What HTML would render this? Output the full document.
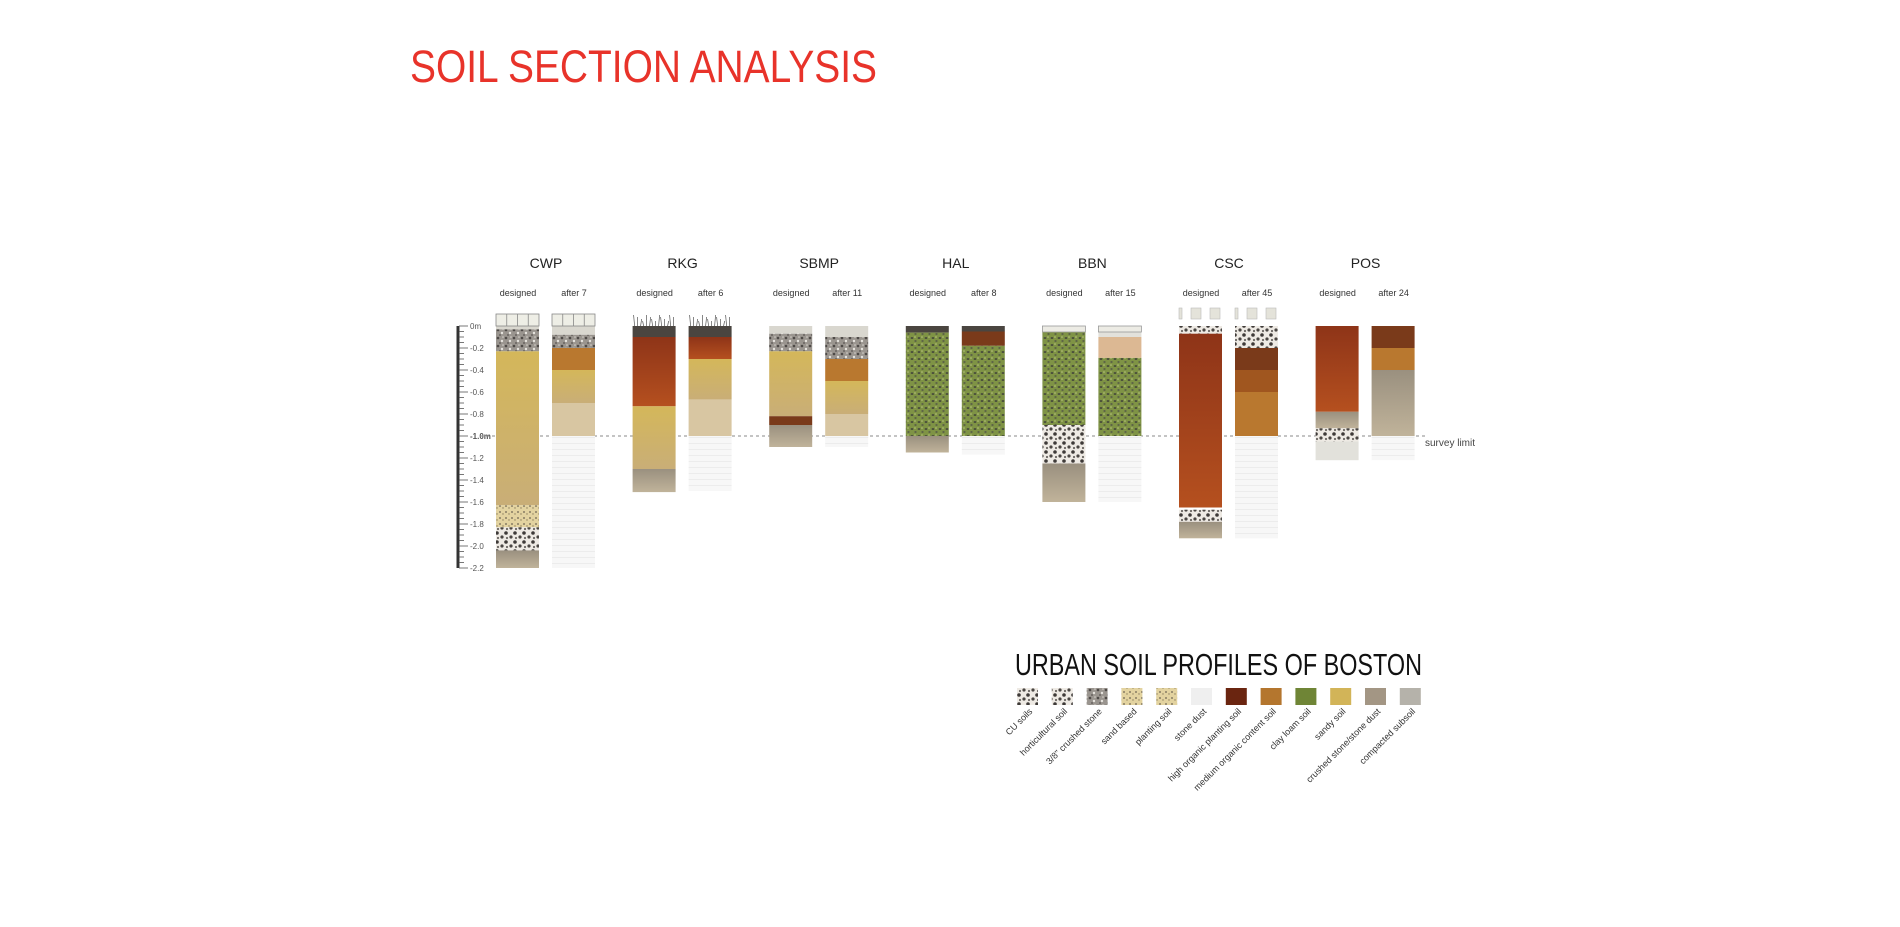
<!DOCTYPE html>
<html><head><meta charset="utf-8"><style>
html,body{margin:0;padding:0;background:#fff;width:1900px;height:927px;overflow:hidden}
svg text{font-family:"Liberation Sans",sans-serif}
</style></head><body>
<svg id="chart" width="1900" height="927" viewBox="0 0 1900 927">
<defs>
<pattern id="p-crushed" width="8" height="8" patternUnits="userSpaceOnUse"><rect width="8" height="8" fill="#9a958f"/><circle cx="2" cy="2" r="1.3" fill="#4e4a47"/><circle cx="6" cy="5" r="1.2" fill="#e6e3de"/><circle cx="4" cy="7" r="0.9" fill="#5a5652"/><circle cx="7" cy="1" r="0.8" fill="#d6d2cc"/></pattern>
<pattern id="p-coarse" width="9" height="9" patternUnits="userSpaceOnUse"><rect width="9" height="9" fill="#eeeae4"/><circle cx="2" cy="2" r="1.8" fill="#3e3a38"/><circle cx="7" cy="6" r="1.6" fill="#4a4643"/><circle cx="3" cy="7" r="1.1" fill="#6b6662"/></pattern>
<pattern id="p-clay" width="7" height="7" patternUnits="userSpaceOnUse"><rect width="7" height="7" fill="#7f9345"/><ellipse cx="2" cy="2" rx="1.4" ry="1" fill="#4b4f3c"/><ellipse cx="5.5" cy="5" rx="1.2" ry="0.9" fill="#555947"/><circle cx="5" cy="1" r="0.8" fill="#b9c47f"/></pattern>
<pattern id="p-planting" width="6" height="6" patternUnits="userSpaceOnUse"><rect width="6" height="6" fill="#e3d3a0"/><circle cx="2" cy="2" r="0.9" fill="#6b6250"/><circle cx="5" cy="4" r="0.7" fill="#8a7c5c"/></pattern>
<pattern id="p-empty" width="10" height="6" patternUnits="userSpaceOnUse"><rect width="10" height="6" fill="#f7f7f7"/><line x1="0" y1="5.5" x2="10" y2="5.5" stroke="#ececec" stroke-width="1"/></pattern>
<linearGradient id="g-sandy" x1="0" y1="0" x2="0" y2="1"><stop offset="0" stop-color="#d4b75a"/><stop offset="1" stop-color="#c9ae77"/></linearGradient>
<linearGradient id="g-highorg" x1="0" y1="0" x2="0" y2="1"><stop offset="0" stop-color="#8e3418"/><stop offset="1" stop-color="#b5501f"/></linearGradient>
<linearGradient id="g-compacted" x1="0" y1="0" x2="0" y2="1"><stop offset="0" stop-color="#9a907f"/><stop offset="1" stop-color="#c0b39a"/></linearGradient>
</defs>
<text x="410" y="82" font-size="45" fill="#e8332a" textLength="467" lengthAdjust="spacingAndGlyphs">SOIL SECTION ANALYSIS</text>
<g id="plot"></g>
<g id="legend"></g>
</svg>
<script>
const sites = ["CWP","RKG","SBMP","HAL","BBN","CSC","POS"];
const afterLabels = ["after 7","after 6","after 11","after 8","after 15","after 45","after 24"];
const designedLayers = [
 [[0,0.03,"stonedust"],[0.03,0.23,"crushed"],[0.23,1.63,"sandy"],[1.63,1.83,"planting"],[1.83,2.04,"coarse"],[2.04,2.2,"compacted"]],
 [[0,0.1,"dark"],[0.1,0.73,"highorg"],[0.73,1.3,"sandy"],[1.3,1.51,"compacted"]],
 [[0,0.07,"stonedust"],[0.07,0.23,"crushed"],[0.23,0.82,"sandy"],[0.82,0.9,"darkbrown"],[0.9,1.1,"compacted"]],
 [[0,0.06,"dark"],[0.06,1.0,"clay"],[1.0,1.15,"compacted"]],
 [[0,0.05,"stonedust"],[0.05,0.9,"clay"],[0.9,1.25,"coarse"],[1.25,1.6,"compacted"]],
 [[0,0.07,"coarse"],[0.07,1.65,"highorg"],[1.67,1.78,"coarse"],[1.78,1.93,"compacted"]],
 [[0,0.78,"highorg"],[0.78,0.93,"compacted"],[0.93,1.05,"coarse"],[1.05,1.22,"lightgray"]]
];
const afterLayers = [
 [[0,0.08,"stonedust"],[0.08,0.2,"crushed"],[0.2,0.4,"medorg"],[0.4,0.7,"sandy"],[0.7,1.0,"lightsandy"],[1.0,2.2,"empty"]],
 [[0,0.1,"dark"],[0.1,0.3,"highorg"],[0.3,0.67,"sandy"],[0.67,1.0,"lightsandy"],[1.0,1.5,"empty"]],
 [[0,0.1,"stonedust"],[0.1,0.3,"crushed"],[0.3,0.5,"medorg"],[0.5,0.8,"sandy"],[0.8,1.0,"lightsandy"],[1.0,1.1,"empty"]],
 [[0,0.05,"dark"],[0.05,0.18,"darkbrown"],[0.18,1.0,"clay"],[1.0,1.17,"empty"]],
 [[0,0.05,"stonedust"],[0.05,0.1,"lightgray"],[0.1,0.29,"tan"],[0.29,1.0,"clay"],[1.0,1.6,"empty"]],
 [[0,0.2,"coarse"],[0.2,0.4,"darkbrown"],[0.4,0.6,"brown"],[0.6,1.0,"medorg"],[1.0,1.93,"empty"]],
 [[0,0.2,"darkbrown"],[0.2,0.4,"medorg"],[0.4,1.0,"compacted"],[1.0,1.22,"empty"]]
];
const topper = ["paver","grass","none","none","box","squares","none"];
const tickValues = [0,0.2,0.4,0.6,0.8,1.0,1.2,1.4,1.6,1.8,2.0,2.2];
const tickLabels = ["0m","-0.2","-0.4","-0.6","-0.8","-1.0m","-1.2","-1.4","-1.6","-1.8","-2.0","-2.2"];
const legendLabels = ["CU soils","horticultural soil","3/8\" crushed stone","sand based","planting soil","stone dust","high organic  planting soil","medium organic content soil","clay loam soil","sandy soil","crushed stone/stone dust","compacted subsoil"];
const legendFills = ["url(#p-coarse)","url(#p-coarse)","url(#p-crushed)","url(#p-planting)","url(#p-planting)","#efefef","#6a2510","#b4762e","#6f8536","#d2b458","#a39684","#b5b2aa"];

const NS="http://www.w3.org/2000/svg";
const plot=document.getElementById('plot');
function y(d){return 326+d*110;}
function siteX(i){return 546+i*136.6;}
function el(tag,attrs,parent){const e=document.createElementNS(NS,tag);for(const k in attrs)e.setAttribute(k,attrs[k]);(parent||plot).appendChild(e);return e;}
const fills={stonedust:"#d9d7cf",crushed:"url(#p-crushed)",coarse:"url(#p-coarse)",sandy:"url(#g-sandy)",lightsandy:"#d8c6a2",planting:"url(#p-planting)",medorg:"#b9782f",highorg:"url(#g-highorg)",darkbrown:"#7a3a1a",clay:"url(#p-clay)",compacted:"url(#g-compacted)",empty:"url(#p-empty)",dark:"#4a4540",tan:"#dcb893",lightgray:"#e2e1db",brown:"#a0561f"};

// axis
let ax=el('line',{x1:458,y1:y(0),x2:458,y2:y(2.2),stroke:'#333','stroke-width':3});


for(let k=0;k<=44;k++){
  const d=k*0.05;
  const t=el('line',{x1:459,y1:y(d),x2:k%4==0?468:464,y2:y(d),stroke:'#555','stroke-width':0.8});
  
  
}
tickValues.forEach((v,i)=>{
  const t=el('text',{x:470,y:y(v)+3,'font-size':8,fill:'#555','font-weight':i==5?'bold':'normal'});
  t.textContent=tickLabels[i];
  
  
});
// survey limit line
let sl=el('line',{x1:480,y1:y(1.0),x2:1425,y2:y(1.0),stroke:'#888','stroke-width':1,'stroke-dasharray':'3,3'});


let st=el('text',{x:1425,y:y(1.0)+10,'font-size':10,fill:'#444'});
st.textContent='survey limit';



function drawColumn(x,layers,top){
  const w=43;
  layers.forEach(L=>{
    const r=el('rect',{x:x,y:y(L[0]),width:w,height:y(L[1])-y(L[0]),fill:fills[L[2]]});
    
    
  });
  if(top==='paver'){
    const b=el('rect',{x:x,y:314,width:w,height:12,fill:'#eeeee6',stroke:'#888','stroke-width':0.8});
    
    
    for(let k=1;k<4;k++){const l=el('line',{x1:x+k*w/4,y1:314,x2:x+k*w/4,y2:326,stroke:'#888','stroke-width':0.8});}
  } else if(top==='grass'){
    for(let k=0;k<14;k++){const l=el('line',{x1:x+2+k*3,y1:326,x2:x+1+k*3+(k%3),y2:315+(k%4)*2,stroke:'#555','stroke-width':0.7});}
  } else if(top==='box'){
    const b=el('rect',{x:x,y:326,width:w,height:6,fill:'#ecebe4',stroke:'#999','stroke-width':0.8});
    
    
  } else if(top==='squares'){
    [[0,3],[12,10],[31,10]].forEach(s=>{const r=el('rect',{x:x+s[0],y:308,width:s[1],height:11,fill:'#e4e3da',stroke:'#bbb','stroke-width':0.6});});
  }
}
sites.forEach((s,i)=>{
  const c=siteX(i);
  let t=el('text',{x:c,y:268,'font-size':14,'text-anchor':'middle',fill:'#222'});
  t.textContent=s;
  
  
  let d=el('text',{x:c-28,y:296,'font-size':9,'text-anchor':'middle',fill:'#333'});
  d.textContent='designed';
  
  
  let a=el('text',{x:c+28,y:296,'font-size':9,'text-anchor':'middle',fill:'#333'});
  a.textContent=afterLabels[i];
  
  
  drawColumn(c-50,designedLayers[i],topper[i]);
  drawColumn(c+6,afterLayers[i],topper[i]==='grass'?'grass':topper[i]);
});

// legend
const lg=document.getElementById('legend');
let lt=el('text',{x:1015,y:675,'font-size':31,fill:'#111',textLength:407,lengthAdjust:'spacingAndGlyphs'},lg);
lt.textContent='URBAN SOIL PROFILES OF BOSTON';


legendLabels.forEach((lab,i)=>{
  const x=1017+i*34.8;
  const r=el('rect',{x:x,y:688,width:21,height:17,fill:legendFills[i]},lg);
  
  
  const cx=x+16,cy=712;
  const t=el('text',{x:cx,y:cy,'font-size':9,fill:'#333','text-anchor':'end',transform:`rotate(-45 ${cx} ${cy})`},lg);
  t.textContent=lab;
  
  
});
</script>
</body></html>
